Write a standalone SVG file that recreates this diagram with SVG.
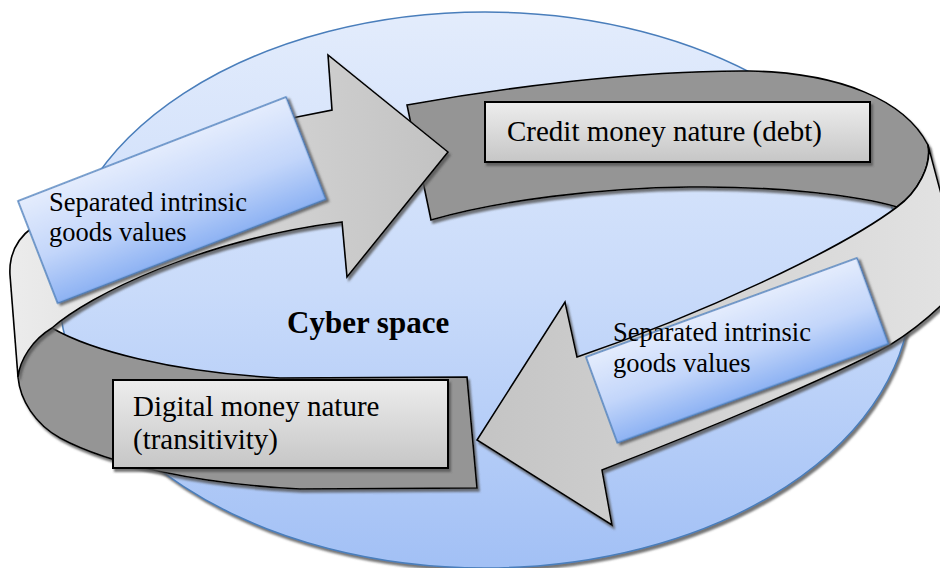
<svg xmlns="http://www.w3.org/2000/svg" width="940" height="568" viewBox="0 0 940 568">
<defs>
<linearGradient id="gEll" x1="0" y1="0" x2="0" y2="1">
<stop offset="0" stop-color="#e3ecfc"/>
<stop offset="0.5" stop-color="#c9dbfa"/>
<stop offset="1" stop-color="#a2c0f5"/>
</linearGradient>
<linearGradient id="gBlue" x1="0" y1="0" x2="0" y2="1">
<stop offset="0" stop-color="#e4ecfd"/>
<stop offset="0.55" stop-color="#c3d6fa"/>
<stop offset="1" stop-color="#8db2f3"/>
</linearGradient>
<linearGradient id="gBox" x1="0" y1="0" x2="0" y2="1">
<stop offset="0" stop-color="#ededed"/>
<stop offset="1" stop-color="#c6c6c6"/>
</linearGradient>
<linearGradient id="gArrL" gradientUnits="userSpaceOnUse" x1="10" y1="0" x2="448" y2="0">
<stop offset="0" stop-color="#ececec"/>
<stop offset="0.6" stop-color="#d2d2d2"/>
<stop offset="1" stop-color="#c2c2c2"/>
</linearGradient>
<linearGradient id="gArrR" gradientUnits="userSpaceOnUse" x1="945" y1="0" x2="477" y2="0">
<stop offset="0" stop-color="#e2e2e2"/>
<stop offset="1" stop-color="#c4c4c4"/>
</linearGradient>
<filter id="sh" x="-10%" y="-10%" width="120%" height="120%">
<feDropShadow dx="2" dy="3" stdDeviation="1" flood-color="#555555" flood-opacity="0.8"/>
</filter>
<style>
.rib{stroke:#000;stroke-width:1.6;stroke-linejoin:miter}
.dark{fill:#959595}
.box{fill:url(#gBox);stroke:#000;stroke-width:2}
.blue{fill:url(#gBlue);stroke:#4f81bd;stroke-width:1.5}
.t{font-family:"Liberation Serif","Times New Roman",serif;fill:#000}
.tb{font-size:29px}
.tl{font-size:26.5px}
</style>
</defs>
<g id="cyber-space">
<ellipse cx="485" cy="290" rx="426" ry="278" fill="url(#gEll)" stroke="#4a7ebb" stroke-width="1.5" filter="url(#sh)"/>
<text class="t" x="287" y="333" font-size="31" font-weight="bold">Cyber space</text>
</g>
<g id="connectors">
<path id="ribbon-top" class="rib dark" filter="url(#sh)" d="M407,105 C500,88 640,70 750,71 C840,73 905,100 928,145 C932,165 918,192 897,207 C860,196 780,186 690,187 C600,188 500,200 431,220 Z"/>
<path id="ribbon-bottom" class="rib dark" filter="url(#sh)" d="M52,328 C90,350 170,372 280,378 L467,377 L477,488 L300,489 C200,484 110,465 60,438 C35,424 20,400 18,377 C20,360 32,340 52,328 Z"/>
<path id="arrow-right" class="rib" fill="url(#gArrR)" filter="url(#sh)" d="M928,145 C932,165 918,192 897,207 C840,250 700,315 577,357 L565,302 L477,440 L612,525 L602,470 C700,432 830,378 890,345 C915,330 935,312 952,295 L952,235 Z"/>
<path id="arrow-left" class="rib" fill="url(#gArrL)" filter="url(#sh)" d="M52,328 C90,295 200,240 342,222 L347,277 L448,152 L328,55 L332,110 L297,117 C200,140 90,190 33,227 C15,240 9,258 10,275 L18,377 C20,360 32,340 52,328 Z"/>
</g>
<g id="credit-money">
<rect class="box" x="485" y="102" width="385" height="60" filter="url(#sh)"/>
<text class="t tb" x="507" y="141">Credit money nature (debt)</text>
</g>
<g id="digital-money">
<rect class="box" x="113" y="380" width="335" height="88" filter="url(#sh)"/>
<text class="t tb" x="133" y="416">Digital money nature</text>
<text class="t tb" x="133" y="449">(transitivity)</text>
</g>
<g id="separated-left">
<rect class="blue" x="0" y="0" width="287.5" height="109.6" transform="translate(18,201) rotate(-21.2)" filter="url(#sh)"/>
<text class="t tl" x="49" y="211">Separated intrinsic</text>
<text class="t tl" x="49" y="241">goods values</text>
</g>
<g id="separated-right">
<rect class="blue" x="0" y="0" width="288.5" height="91.4" transform="translate(586,357) rotate(-20.07)" filter="url(#sh)"/>
<text class="t tl" x="613" y="341">Separated intrinsic</text>
<text class="t tl" x="613" y="372">goods values</text>
</g>
</svg>
